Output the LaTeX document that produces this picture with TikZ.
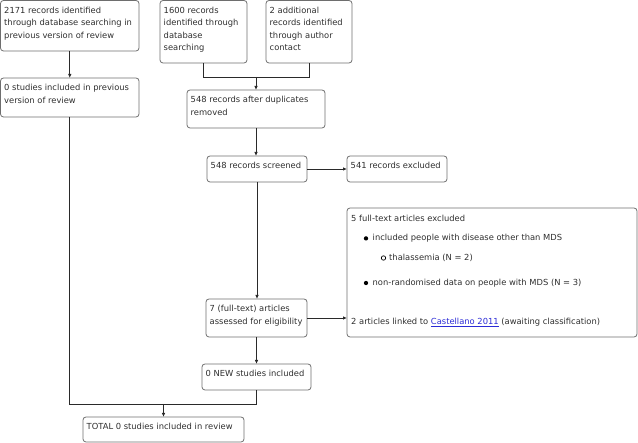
\documentclass[tikz,border=0pt]{standalone}
\usepackage{fontspec}
\setmainfont{DejaVu Sans}
\usetikzlibrary{arrows.meta}
\definecolor{bordc}{HTML}{6E6E6E}
\definecolor{linec}{HTML}{2A2A2A}
\definecolor{txtc}{HTML}{2E2E2E}
\definecolor{linkc}{HTML}{2B2BD6}
\newcommand{\fs}{\fontsize{8.35}{12.5}\selectfont}
\newcommand{\mkbox}[5]{\node[box, minimum width={#4-#2}, minimum height={#5-#3}] (#1) at ({(#2+#4)/2},{(#3+#5)/2}) {};}
\tikzset{
  box/.style={draw=bordc, line width=0.8pt, rounded corners=3pt, inner sep=0pt, outer sep=0pt},
  txt/.style={anchor=north west, inner sep=0pt, align=left, font=\fs, text=txtc},
  lbl/.style={anchor=base west, inner sep=0pt, font=\fs, text=txtc},
  conn/.style={draw=linec, line width=0.8pt},
  arr/.style={conn, -{Latex[length=4pt,width=3.5pt]}},
  bul/.style={circle, fill=black, inner sep=0pt, minimum size=4.3pt},
  obul/.style={circle, draw=black, line width=0.7pt, inner sep=0pt, minimum size=4.4pt}
}
\begin{document}
\begin{tikzpicture}[x=1pt,y=-1pt]
\useasboundingbox (0,0) rectangle (638,443);
% boxes
\mkbox{A}{0.5}{0.5}{139}{51}
\mkbox{B}{0.5}{78}{139}{117}
\mkbox{C}{160}{0.5}{247}{63}
\mkbox{D}{266}{0.5}{352}{63}
\mkbox{E}{187}{90}{325}{128}
\mkbox{F}{207}{156}{307}{182}
\mkbox{G}{347}{156}{447}{182}
\mkbox{H}{347}{208}{637}{337}
\mkbox{I}{206}{299}{307}{337}
\mkbox{J}{202}{364}{311}{390}
\mkbox{K}{83}{417}{244}{442}
% texts
\node[txt] (At) at ([shift={(3.5,4)}]A.north west) {\strut 2171 records identified\\through database searching in\\previous version of review};
\node[txt] (Bt) at ([shift={(3.5,4)}]B.north west) {\strut 0 studies included in previous\\version of review};
\node[txt] (Ct) at ([shift={(3.5,4)}]C.north west) {\strut 1600 records\\identified through\\database\\searching};
\node[txt] (Dt) at ([shift={(3.5,4)}]D.north west) {\strut 2 additional\\records identified\\through author\\contact};
\node[txt] (Et) at ([shift={(3.5,4)}]E.north west) {\strut 548 records after duplicates\\removed};
\node[txt] (Ft) at ([shift={(3.5,4)}]F.north west) {\strut 548 records screened};
\node[txt] (Gt) at ([shift={(3.5,4)}]G.north west) {\strut 541 records excluded};
\node[txt] (It) at ([shift={(3.5,4)}]I.north west) {\strut 7 (full-text) articles\\assessed for eligibility};
\node[txt] (Jt) at ([shift={(3.5,4)}]J.north west) {\strut 0 NEW studies included};
\node[txt] (Kt) at ([shift={(3.5,4)}]K.north west) {\strut TOTAL 0 studies included in review};
% H contents
\node[lbl] (H1) at (351,221.3) {5 full-text articles excluded};
\node[bul] (b1) at (366,238.4) {};
\node[lbl] (H2) at (372.5,240.9) {included people with disease other than MDS};
\node[obul] (b2) at (383.5,258.0) {};
\node[lbl] (H3) at (389,260.5) {thalassemia (N = 2)};
\node[bul] (b3) at (366,283.0) {};
\node[lbl] (H4) at (372.5,285.5) {non-randomised data on people with MDS (N = 3)};
\node[lbl] (H5) at (351,324.7) {2 articles linked to {\color{linkc}\underline{Castellano 2011}} (awaiting classification)};
% connectors
\draw[arr] (A.south) -- (A.south |- B.north);
\coordinate (j1) at (E.north |- 0,77);
\draw[conn] (C.south) -- (C.south |- j1) -- (D.south |- j1) -- (D.south);
\draw[arr] (j1) -- (E.north);
\draw[arr] (E.south) -- (E.south |- F.north);
\draw[arr] (F.east) -- (F.east -| G.west);
\draw[arr] (F.south) -- (F.south |- I.north);
\coordinate (j2) at (I.east |- 0,318);
\draw[arr] (j2) -- (j2 -| H.west);
\draw[arr] (I.south) -- (I.south |- J.north);
\coordinate (j3) at (K.north |- 0,404);
\draw[conn] (B.south) -- (B.south |- j3) -- (J.south |- j3) -- (J.south);
\draw[arr] (j3) -- (K.north);
\end{tikzpicture}
\end{document}
